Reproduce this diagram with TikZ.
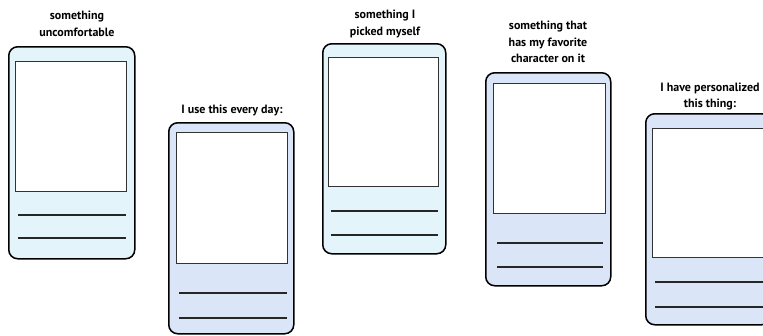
\documentclass[tikz,border=0pt]{standalone}
\usepackage{fontspec}
\setmainfont{PT Sans}
\definecolor{cardcyan}{HTML}{E3F4FB}
\definecolor{cardblue}{HTML}{DAE5F8}
\begin{document}
\begin{tikzpicture}[x=1pt,y=-1pt,
  card/.style={draw=black, line width=1.5pt, rounded corners=9pt, anchor=north west, inner sep=0pt},
  screen/.style={draw=black!80, line width=1pt, fill=white, anchor=north west, inner sep=0pt},
  rule/.style={draw=black!85, line width=1.2pt},
  label/.style={align=center, font=\fontsize{12}{16.5}\selectfont\bfseries, inner sep=0pt}]
\useasboundingbox (0,0) rectangle (763,335);
% card 1
\node[card, fill=cardcyan, minimum width=126pt, minimum height=212pt] (c1) at (8,46) {};
\node[screen, minimum width=111pt, minimum height=130pt] (s1) at (15,61) {};
\draw[rule] (18,215) -- (126,215);
\draw[rule] (18,238) -- (126,238);
\node[label] (t1) at (77,24) {something\\uncomfortable};
% card 2
\node[card, fill=cardblue, minimum width=125pt, minimum height=211pt] (c2) at (168,122) {};
\node[screen, minimum width=111pt, minimum height=131pt] (s2) at (176,132) {};
\draw[rule] (179,293) -- (287,293);
\draw[rule] (179,318) -- (287,318);
\node[label] (t2) at (232,110) {I use this every day:};
% card 3
\node[card, fill=cardcyan, minimum width=123pt, minimum height=210pt] (c3) at (322,43) {};
\node[screen, minimum width=110pt, minimum height=129pt] (s3) at (328,57) {};
\draw[rule] (331,211) -- (438,211);
\draw[rule] (331,235) -- (438,235);
\node[label] (t3) at (385,24) {something I\\picked myself};
% card 4
\node[card, fill=cardblue, minimum width=125pt, minimum height=213pt] (c4) at (485,72) {};
\node[screen, minimum width=112pt, minimum height=130pt] (s4) at (493,83) {};
\draw[rule] (497,243) -- (603,243);
\draw[rule] (497,267) -- (603,267);
\node[label] (t4) at (548,42) {something that\\has my favorite\\character on it};
% card 5
\node[card, fill=cardblue, minimum width=125pt, minimum height=211pt] (c5) at (645,113) {};
\node[screen, minimum width=113pt, minimum height=129pt] (s5) at (652,128) {};
\draw[rule] (655,282) -- (765,282);
\draw[rule] (655,307) -- (765,307);
\node[label] (t5) at (710,96.5) {I have personalized\\this thing:};
\end{tikzpicture}
\end{document}
